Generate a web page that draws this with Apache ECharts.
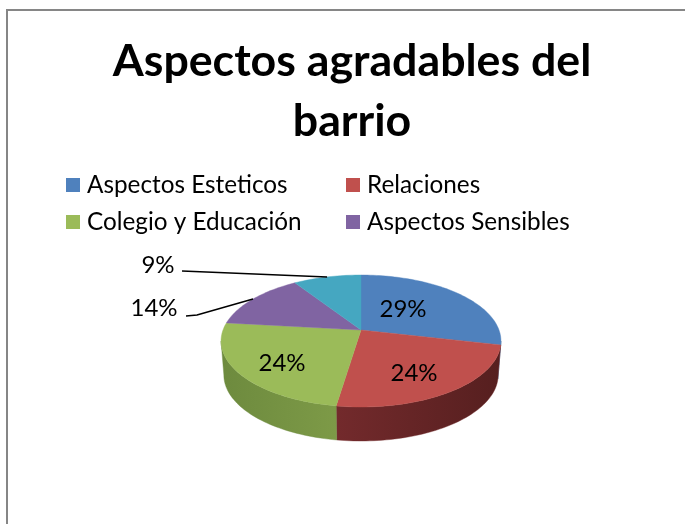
<!DOCTYPE html>
<html><head><meta charset="utf-8">
<style>html,body{margin:0;padding:0;background:#fff}#c{width:685px;height:524px}</style>
<script src="https://cdn.jsdelivr.net/npm/echarts@6/dist/echarts.min.js"></script>
</head><body><div id="c"></div>
<script>
const titleLines = ['Aspectos agradables del', 'barrio'];
const categories = ['Aspectos Esteticos', 'Relaciones', 'Colegio y Educación', 'Aspectos Sensibles', 'Otros'];
const values = [28.6, 23.8, 24.4, 14, 9.2];
const topColors = ['#4f81bd', '#c0504d', '#9bbb59', '#8064a2', '#45a7c1'];
const sideColors = [['#3b6390', '#2f4f75'], ['#732a2c', '#561f1f'], ['#6d8a3e', '#7d9a47'], ['#5f4a7a', '#5f4a7a'], ['#33809a', '#33809a']];

// 3D projection of the pie disc
const P = {cx: 361, cy: 330, a: 64.17, b: 138, k: 1 / 6, depth: 34, shrink: 0.98, sideFrom: 99.6, sideTo: 260.4};
const project = (deg, r) => {
  const t = deg * Math.PI / 180, u = Math.sin(t) * r, v = -Math.cos(t) * r, d = 1 - P.k * v;
  return [P.cx + P.b * u / d, P.cy + P.a * v / d];
};
const total = values.reduce((s, v) => s + v, 0);
const startDeg = i => values.slice(0, i).reduce((s, v) => s + v, 0) / total * 360;
const arc = (from, to) => {
  const pts = [], n = Math.max(2, Math.ceil((to - from) / 1.5));
  for (let j = 0; j <= n; j++) pts.push(project(from + (to - from) * j / n, 1));
  return pts;
};
const labelAt = {0: [403, 309], 1: [414, 373], 2: [282, 363], 3: [154, 308], 4: [158, 265]};
const leaders = {3: [[186, 316], [197, 315]], 4: [[182, 271]]};

function render(i) {
  return function () {
    const s = startDeg(i), e = startDeg(i + 1), mid = (s + e) / 2, kids = [];
    const from = Math.max(s, P.sideFrom), to = Math.min(e, P.sideTo);
    if (to > from) {
      const rim = arc(from, to);
      const low = rim.map(p => [P.cx + (p[0] - P.cx) * P.shrink, p[1] + P.depth]).reverse();
      kids.push({type: 'polygon', shape: {points: rim.concat(low)}, style: {
        fill: new echarts.graphic.LinearGradient(0, 0, 1, 0, [{offset: 0, color: sideColors[i][0]}, {offset: 1, color: sideColors[i][1]}]),
        stroke: sideColors[i][0], lineWidth: 0.4}});
    }
    kids.push({type: 'polygon', shape: {points: [[P.cx, P.cy]].concat(arc(s, e))},
      style: {fill: topColors[i], stroke: topColors[i], lineWidth: 0.4}});
    if (leaders[i]) {
      kids.push({type: 'polyline', shape: {points: leaders[i].concat([project(mid, 1)])},
        style: {fill: 'none', stroke: '#000', lineWidth: 1.6}});
    }
    kids.push({type: 'text', x: labelAt[i][0], y: labelAt[i][1], z2: 10, style: {
      text: Math.round(values[i]) + '%', fill: '#000', font: '24px Lato', align: 'center', verticalAlign: 'middle'}});
    return {type: 'group', children: kids};
  };
}

const legendBase = {top: 168, orient: 'vertical', icon: 'rect', itemWidth: 14, itemHeight: 14, itemGap: 13,
  textStyle: {fontFamily: 'Lato', fontSize: 24.3, color: '#000', padding: [0, 0, 0, 2]}};
const chart = echarts.init(document.getElementById('c'), null, {renderer: 'canvas'});
chart.setOption({
  animation: false,
  backgroundColor: '#fff',
  title: {text: titleLines.join('\n'), left: 347, top: 27, textAlign: 'center',
    textStyle: {fontFamily: 'Lato', fontWeight: 'bold', fontSize: 44.7, lineHeight: 60, color: '#000'}},
  legend: [
    Object.assign({left: 61, data: [categories[0], categories[2]]}, legendBase),
    Object.assign({left: 341, data: [categories[1], categories[3]]}, legendBase)
  ],
  graphic: [{type: 'polyline', silent: true, z: -1,
    shape: {points: [[7, 530], [7, 10], [690, 10]]}, style: {fill: 'none', stroke: '#868686', lineWidth: 2}}],
  series: categories.map((name, i) => ({
    type: 'custom', name, coordinateSystem: 'none', data: [[values[i]]],
    itemStyle: {color: topColors[i]}, renderItem: render(i), z: 2 + i
  }))
});
</script></body></html>
